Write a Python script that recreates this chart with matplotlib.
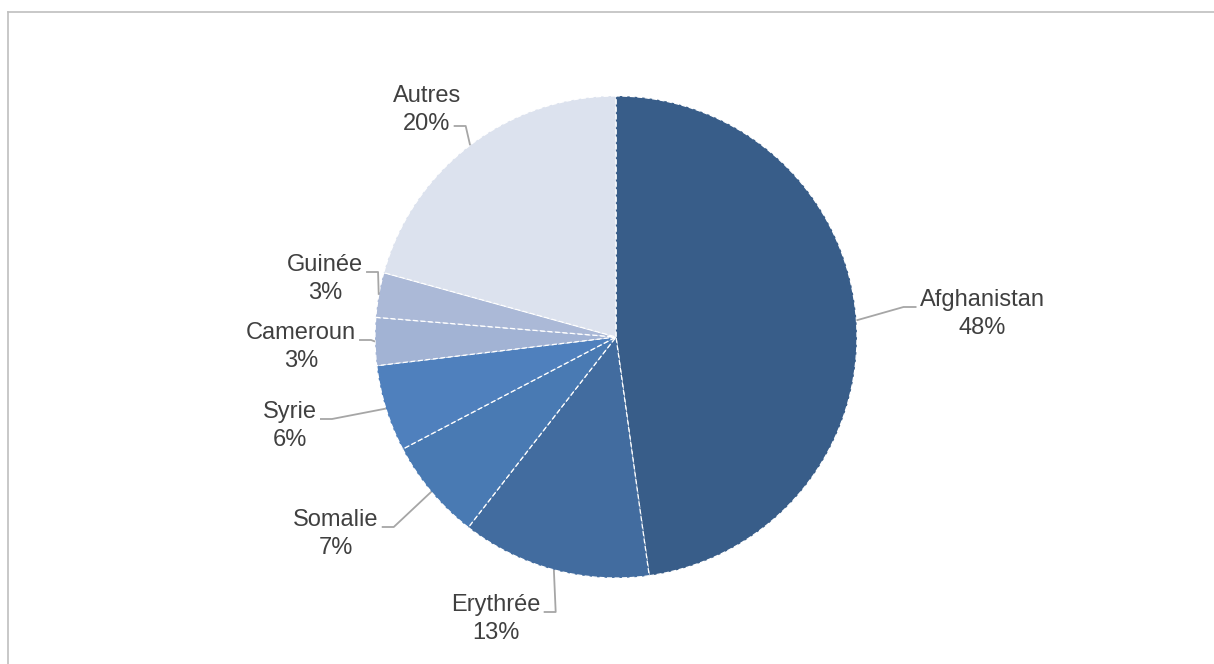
import numpy as np
import matplotlib
matplotlib.use("Agg")
import matplotlib.pyplot as plt
from matplotlib.lines import Line2D

# data (slice sizes, labels as printed)
pays = ["Afghanistan", "Erythrée", "Somalie", "Syrie", "Cameroun", "Guinée", "Autres"]
parts = [47.8, 12.7, 6.8, 5.8, 3.2, 3.0, 20.7]
pct_labels = ["48%", "13%", "7%", "6%", "3%", "3%", "20%"]
couleurs = ["#385D89", "#426C9F", "#497AB3", "#4F80BD", "#A2B3D4", "#ABB9D7", "#DCE2EE"]

# label layout (pixel positions, y from top) and leader side
label_pos = [(982, 314), (496, 619), (336, 534), (290, 426), (301, 347), (325, 279), (427, 110)]
label_side = ["left", "right", "right", "right", "right", "right", "right"]
label_line = [0, 0, 0, 0, 0, 0, 1]  # 0 = name line, 1 = percent line

W, H = 1214, 664
cx, cy, r = 616, 337, 241

plt.rcParams['font.family'] = ['Liberation Sans', 'DejaVu Sans']

fig = plt.figure(figsize=(W / 100, H / 100), dpi=100)
ax = fig.add_axes([0, 0, 1, 1])

wedges, _ = ax.pie(parts, colors=couleurs, startangle=90, counterclock=False,
                   center=(cx, H - cy), radius=r, frame=True,
                   wedgeprops=dict(edgecolor="white", linewidth=0.9, linestyle=(0, (4, 2))))
ax.set_xlim(0, W)
ax.set_ylim(0, H)
ax.axis("off")

fig.canvas.draw()
renderer = fig.canvas.get_renderer()

for w, name, pl, (lx, ly), side, ln in zip(wedges, pays, pct_labels, label_pos, label_side, label_line):
    t = ax.text(lx, H - ly, f"{name}\n{pl}", ha="center", va="center", fontsize=17,
                color="#404040", linespacing=1.38)
    bb = t.get_window_extent(renderer)
    # anchor on pie edge at wedge mid angle
    ang = np.deg2rad((w.theta1 + w.theta2) / 2)
    ex = cx + r * np.cos(ang)
    ey = (H - cy) + r * np.sin(ang)
    yl = H - (ly - 7) if ln == 0 else H - (ly + 16)
    if side == "left":
        x0 = bb.x0 - 3
        x1 = x0 - 13
    else:
        if ln == 0:
            x0 = bb.x1 + 3
        else:
            t2 = ax.text(lx, 0, pl, fontsize=17, ha="center")
            b2 = t2.get_window_extent(renderer)
            t2.remove()
            x0 = b2.x1 + 3
        x1 = x0 + 12
    ax.plot([x0, x1, ex], [yl, yl, ey], color="#A6A6A6", lw=1.3, solid_capstyle="butt")

# outer frame
fig.add_artist(Line2D([8 / W, 1], [1 - 12 / H, 1 - 12 / H], transform=fig.transFigure,
                      color="#BFBFBF", lw=1.2))
fig.add_artist(Line2D([8 / W, 8 / W], [0, 1 - 12 / H], transform=fig.transFigure,
                      color="#BFBFBF", lw=1.2))

fig.savefig("out.png", dpi=100, facecolor="white")
